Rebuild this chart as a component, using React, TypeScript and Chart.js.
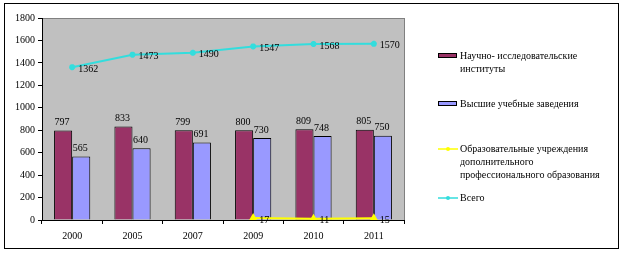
import React, { useEffect, useRef } from "react";
import { Chart, registerables } from "chart.js";

Chart.register(...registerables);

const categories = ["2000", "2005", "2007", "2009", "2010", "2011"];
const nii = [797, 833, 799, 800, 809, 805];
const vuz = [565, 640, 691, 730, 748, 750];
const dpo = [null, null, null, 17, 11, 15];
const total = [1362, 1473, 1490, 1547, 1568, 1570];
const yTicks = { min: 0, max: 1800, step: 200 };

const seriesNames = [
  ["Научно- исследовательские", "институты"],
  ["Высшие учебные заведения"],
  ["Образовательные учреждения", "дополнительного", "профессионального образования"],
  ["Всего"],
];

const FONT = '10px "Liberation Serif", "Times New Roman", serif';

const decorPlugin = {
  id: "decor",
  beforeDraw(chart: any) {
    const { ctx, chartArea: a } = chart;
    ctx.save();
    ctx.fillStyle = "#ffffff";
    ctx.fillRect(0, 0, chart.width, chart.height);
    ctx.fillStyle = "#C0C0C0";
    ctx.fillRect(a.left, a.top, a.right - a.left, a.bottom - a.top);
    ctx.strokeStyle = "#808080";
    ctx.lineWidth = 1;
    ctx.strokeRect(Math.round(a.left) + 0.5, Math.round(a.top) + 0.5, Math.round(a.right - a.left), Math.round(a.bottom - a.top));
    ctx.strokeStyle = "#000000";
    ctx.strokeRect(4.5, 3.5, 614, 245);
    ctx.restore();
  },
  afterDraw(chart: any) {
    const { ctx } = chart;
    ctx.save();
    ctx.font = FONT;
    ctx.fillStyle = "#000";
    [0, 1].forEach((di) => {
      const meta = chart.getDatasetMeta(di);
      const data = chart.data.datasets[di].data;
      meta.data.forEach((el: any, i: number) => {
        ctx.textAlign = "center";
        ctx.textBaseline = "bottom";
        ctx.fillText(String(data[i]), el.x - 1, el.y - 3);
      });
    });
    [2, 3].forEach((di) => {
      const meta = chart.getDatasetMeta(di);
      const data = chart.data.datasets[di].data;
      meta.data.forEach((el: any, i: number) => {
        if (data[i] == null) return;
        ctx.textAlign = "left";
        ctx.textBaseline = "middle";
        ctx.fillText(String(data[i]), el.x + 6, el.y + 2);
      });
    });
    const lx = 438;
    const tx = 460;
    const itemY = [56, 104, 149, 198];
    chart.data.datasets.forEach((ds: any, di: number) => {
      const y = itemY[di];
      if (di < 2) {
        ctx.fillStyle = ds.backgroundColor;
        ctx.fillRect(lx, y - 3, 19, 5);
        ctx.strokeStyle = "#000";
        ctx.lineWidth = 1;
        ctx.strokeRect(lx + 0.5, y - 2.5, 18, 4);
      } else {
        ctx.strokeStyle = ds.borderColor;
        ctx.lineWidth = 1.5;
        ctx.beginPath();
        ctx.moveTo(lx, y);
        ctx.lineTo(lx + 20, y);
        ctx.stroke();
        ctx.fillStyle = ds.borderColor;
        ctx.beginPath();
        ctx.arc(lx + 10, y, 2, 0, Math.PI * 2);
        ctx.fill();
      }
      ctx.fillStyle = "#000";
      ctx.textAlign = "left";
      ctx.textBaseline = "middle";
      seriesNames[di].forEach((line, li) => {
        ctx.fillText(line, tx, y + li * 13);
      });
    });
    ctx.restore();
  },
};

export default function App() {
  const ref = useRef<HTMLCanvasElement | null>(null);
  useEffect(() => {
    if (!ref.current) return;
    const chart = new Chart(ref.current, {
      type: "bar",
      data: {
        labels: categories,
        datasets: [
          {
            type: "bar",
            label: seriesNames[0].join(" "),
            data: nii,
            backgroundColor: "#993366",
            borderColor: "#000000",
            borderWidth: 1,
            categoryPercentage: 0.6,
            barPercentage: 1.0,
            order: 2,
          },
          {
            type: "bar",
            label: seriesNames[1].join(" "),
            data: vuz,
            backgroundColor: "#9999FF",
            borderColor: "#000000",
            borderWidth: 1,
            categoryPercentage: 0.6,
            barPercentage: 1.0,
            order: 2,
          },
          {
            type: "line",
            label: seriesNames[2].join(" "),
            data: dpo as any,
            borderColor: "#FFFF00",
            backgroundColor: "#FFFF00",
            borderWidth: 2,
            pointStyle: "triangle",
            pointRadius: 3,
            spanGaps: false,
            order: 1,
          },
          {
            type: "line",
            label: seriesNames[3].join(" "),
            data: total,
            borderColor: "#33DDDD",
            backgroundColor: "#33DDDD",
            borderWidth: 2,
            pointStyle: "star",
            pointRadius: 3,
            order: 1,
          },
        ],
      },
      options: {
        animation: false,
        responsive: false,
        maintainAspectRatio: false,
        layout: { padding: { left: 0, right: 219, top: 18, bottom: 0 } },
        plugins: { legend: { display: false }, tooltip: { enabled: false } },
        scales: {
          x: {
            offset: true,
            grid: {
              offset: true,
              drawOnChartArea: false,
              drawTicks: true,
              tickLength: 4,
              color: "#000",
            },
            border: { color: "#000" },
            ticks: { color: "#000", font: { family: '"Liberation Serif", serif', size: 10 }, padding: 6, maxRotation: 0 },
            afterFit: (s: any) => {
              s.height = 34;
            },
          },
          y: {
            min: yTicks.min,
            max: yTicks.max,
            grid: { drawOnChartArea: false, drawTicks: true, tickLength: 4, color: "#000" },
            border: { color: "#000" },
            ticks: {
              stepSize: yTicks.step,
              color: "#000",
              font: { family: '"Liberation Serif", serif', size: 10 },
              padding: 3,
              callback: (v: any) => String(v),
            },
            afterFit: (s: any) => {
              s.width = 42;
            },
          },
        },
      },
      plugins: [decorPlugin],
    });
    return () => chart.destroy();
  }, []);
  return (
    <div style={{ position: "absolute", left: 0, top: 0, width: 623, height: 254 }}>
      <canvas ref={ref} width={623} height={254} style={{ width: 623, height: 254 }} />
    </div>
  );
}
